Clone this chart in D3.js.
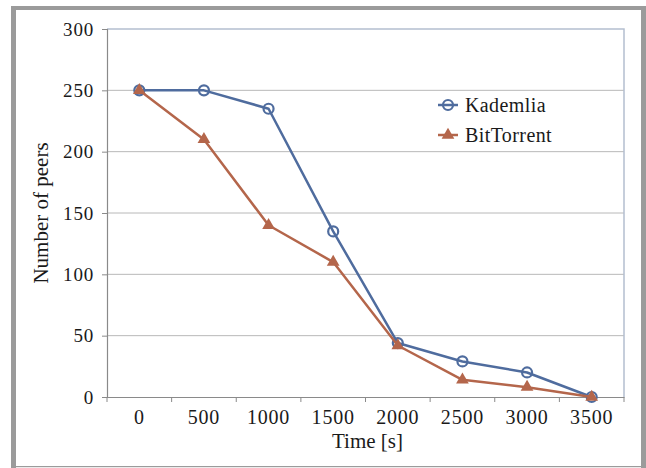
<!DOCTYPE html>
<html><head><meta charset="utf-8">
<script src="https://cdn.jsdelivr.net/npm/d3@7"></script>
<style>body{margin:0;background:#fff}svg{display:block}svg text{font-family:"Liberation Serif",serif}</style>
</head><body>
<svg id="c" width="646" height="468"></svg>
<script>
const categories = [0, 500, 1000, 1500, 2000, 2500, 3000, 3500];
const kademlia = [250, 250, 235, 135, 44, 29, 20, 0];
const bittorrent = [250, 210, 140, 110, 42, 14, 8, 0];
const yTicks = [0, 50, 100, 150, 200, 250, 300];
const seriesNames = ["Kademlia", "BitTorrent"];
const colors = ["#4F6C9E", "#B4664B"];

const svg = d3.select("#c");
const font = "Liberation Serif";

// outer frame
svg.append("rect").attr("x", 11).attr("y", 6).attr("width", 635).attr("height", 4).attr("fill", "#9b9b9b");
svg.append("rect").attr("x", 11).attr("y", 6).attr("width", 5).attr("height", 462).attr("fill", "#9b9b9b");
svg.append("rect").attr("x", 641).attr("y", 6).attr("width", 5).attr("height", 462).attr("fill", "#9b9b9b");
svg.append("rect").attr("x", 11).attr("y", 466).attr("width", 635).attr("height", 1.2).attr("fill", "#9b9b9b");

const L = 107, R = 624, T = 29, B = 397;
const x = d3.scaleBand().domain(categories).range([L, R]);
const y = d3.scaleLinear().domain([0, 300]).range([B, T]);

// gridlines
svg.append("g").selectAll("line").data(yTicks.filter(d => d > 0 && d < 300)).join("line")
  .attr("x1", L).attr("x2", R).attr("y1", d => y(d)).attr("y2", d => y(d))
  .attr("stroke", "#b8b8b8").attr("stroke-width", 1);
// plot border top/right
svg.append("path").attr("d", `M${L},${y(300)}H${R}V${B}`).attr("fill", "none")
  .attr("stroke", "#b4bfcf").attr("stroke-width", 1.5);

// Y axis
const yAxis = svg.append("g").attr("transform", `translate(${L},0)`)
  .call(d3.axisLeft(y).tickValues(yTicks).tickSize(5).tickPadding(8));
// X axis
const xAxis = svg.append("g").attr("transform", `translate(0,${B})`)
  .call(d3.axisBottom(x).tickSize(0).tickPadding(13));
// category boundary ticks
svg.append("g").selectAll("line").data(d3.range(categories.length + 1)).join("line")
  .attr("x1", i => L + i * x.step()).attr("x2", i => L + i * x.step())
  .attr("y1", B).attr("y2", B + 5).attr("stroke", "#8a8a8a").attr("stroke-width", 1);

[yAxis, xAxis].forEach(g => {
  g.attr("font-family", font);
  g.selectAll(".domain").attr("stroke", "#8a8a8a").attr("stroke-width", 1.2);
  g.selectAll(".tick line").attr("stroke", "#8a8a8a");
  g.selectAll("text").attr("font-family", font).attr("fill", "#1a1a1a").style("letter-spacing", "0.8px");
});
yAxis.selectAll("text").attr("font-size", 19);
xAxis.selectAll("text").attr("font-size", 20);

// axis titles
svg.append("text").attr("x", (L + R) / 2 + 2).attr("y", 448).attr("text-anchor", "middle")
  .attr("font-family", font).attr("font-size", 21).attr("fill", "#1a1a1a").text("Time [s]");
svg.append("text").attr("transform", `translate(48,${(T + B) / 2}) rotate(-90)`).attr("text-anchor", "middle")
  .attr("font-family", font).attr("font-size", 21).attr("fill", "#1a1a1a").text("Number of peers");

const cx = d => x(d) + x.bandwidth() / 2;
const line = d3.line().x(d => cx(d[0])).y(d => y(d[1]));
const series = [kademlia, bittorrent].map(v => categories.map((c, i) => [c, v[i]]));

const tri = d3.symbol().type(d3.symbolTriangle).size(70);

function circleMarker(g, px, py, col) {
  g.append("circle").attr("cx", px).attr("cy", py).attr("r", 5)
    .attr("fill", "none").attr("stroke", col).attr("stroke-width", 2.2);
}
function triMarker(g, px, py, col) {
  g.append("path").attr("d", tri()).attr("transform", `translate(${px},${py})`).attr("fill", col);
}

series.forEach((s, k) => {
  const g = svg.append("g");
  g.append("path").attr("d", line(s)).attr("fill", "none").attr("stroke", colors[k])
    .attr("stroke-width", 2.5).attr("stroke-linejoin", "round");
  s.forEach(d => k === 0 ? circleMarker(g, cx(d[0]), y(d[1]), colors[k]) : triMarker(g, cx(d[0]), y(d[1]), colors[k]));
});

// legend
const legY = [105, 135];
seriesNames.forEach((n, k) => {
  const g = svg.append("g");
  g.append("line").attr("x1", 438).attr("x2", 458).attr("y1", legY[k]).attr("y2", legY[k])
    .attr("stroke", colors[k]).attr("stroke-width", 2.5);
  k === 0 ? circleMarker(g, 448, legY[k], colors[k]) : triMarker(g, 448, legY[k], colors[k]);
  g.append("text").attr("x", 465).attr("y", legY[k]).attr("dy", "0.35em")
    .attr("font-family", font).attr("font-size", 20).attr("fill", "#1a1a1a").style("letter-spacing", "0.4px").text(n);
});
</script>
</body></html>
